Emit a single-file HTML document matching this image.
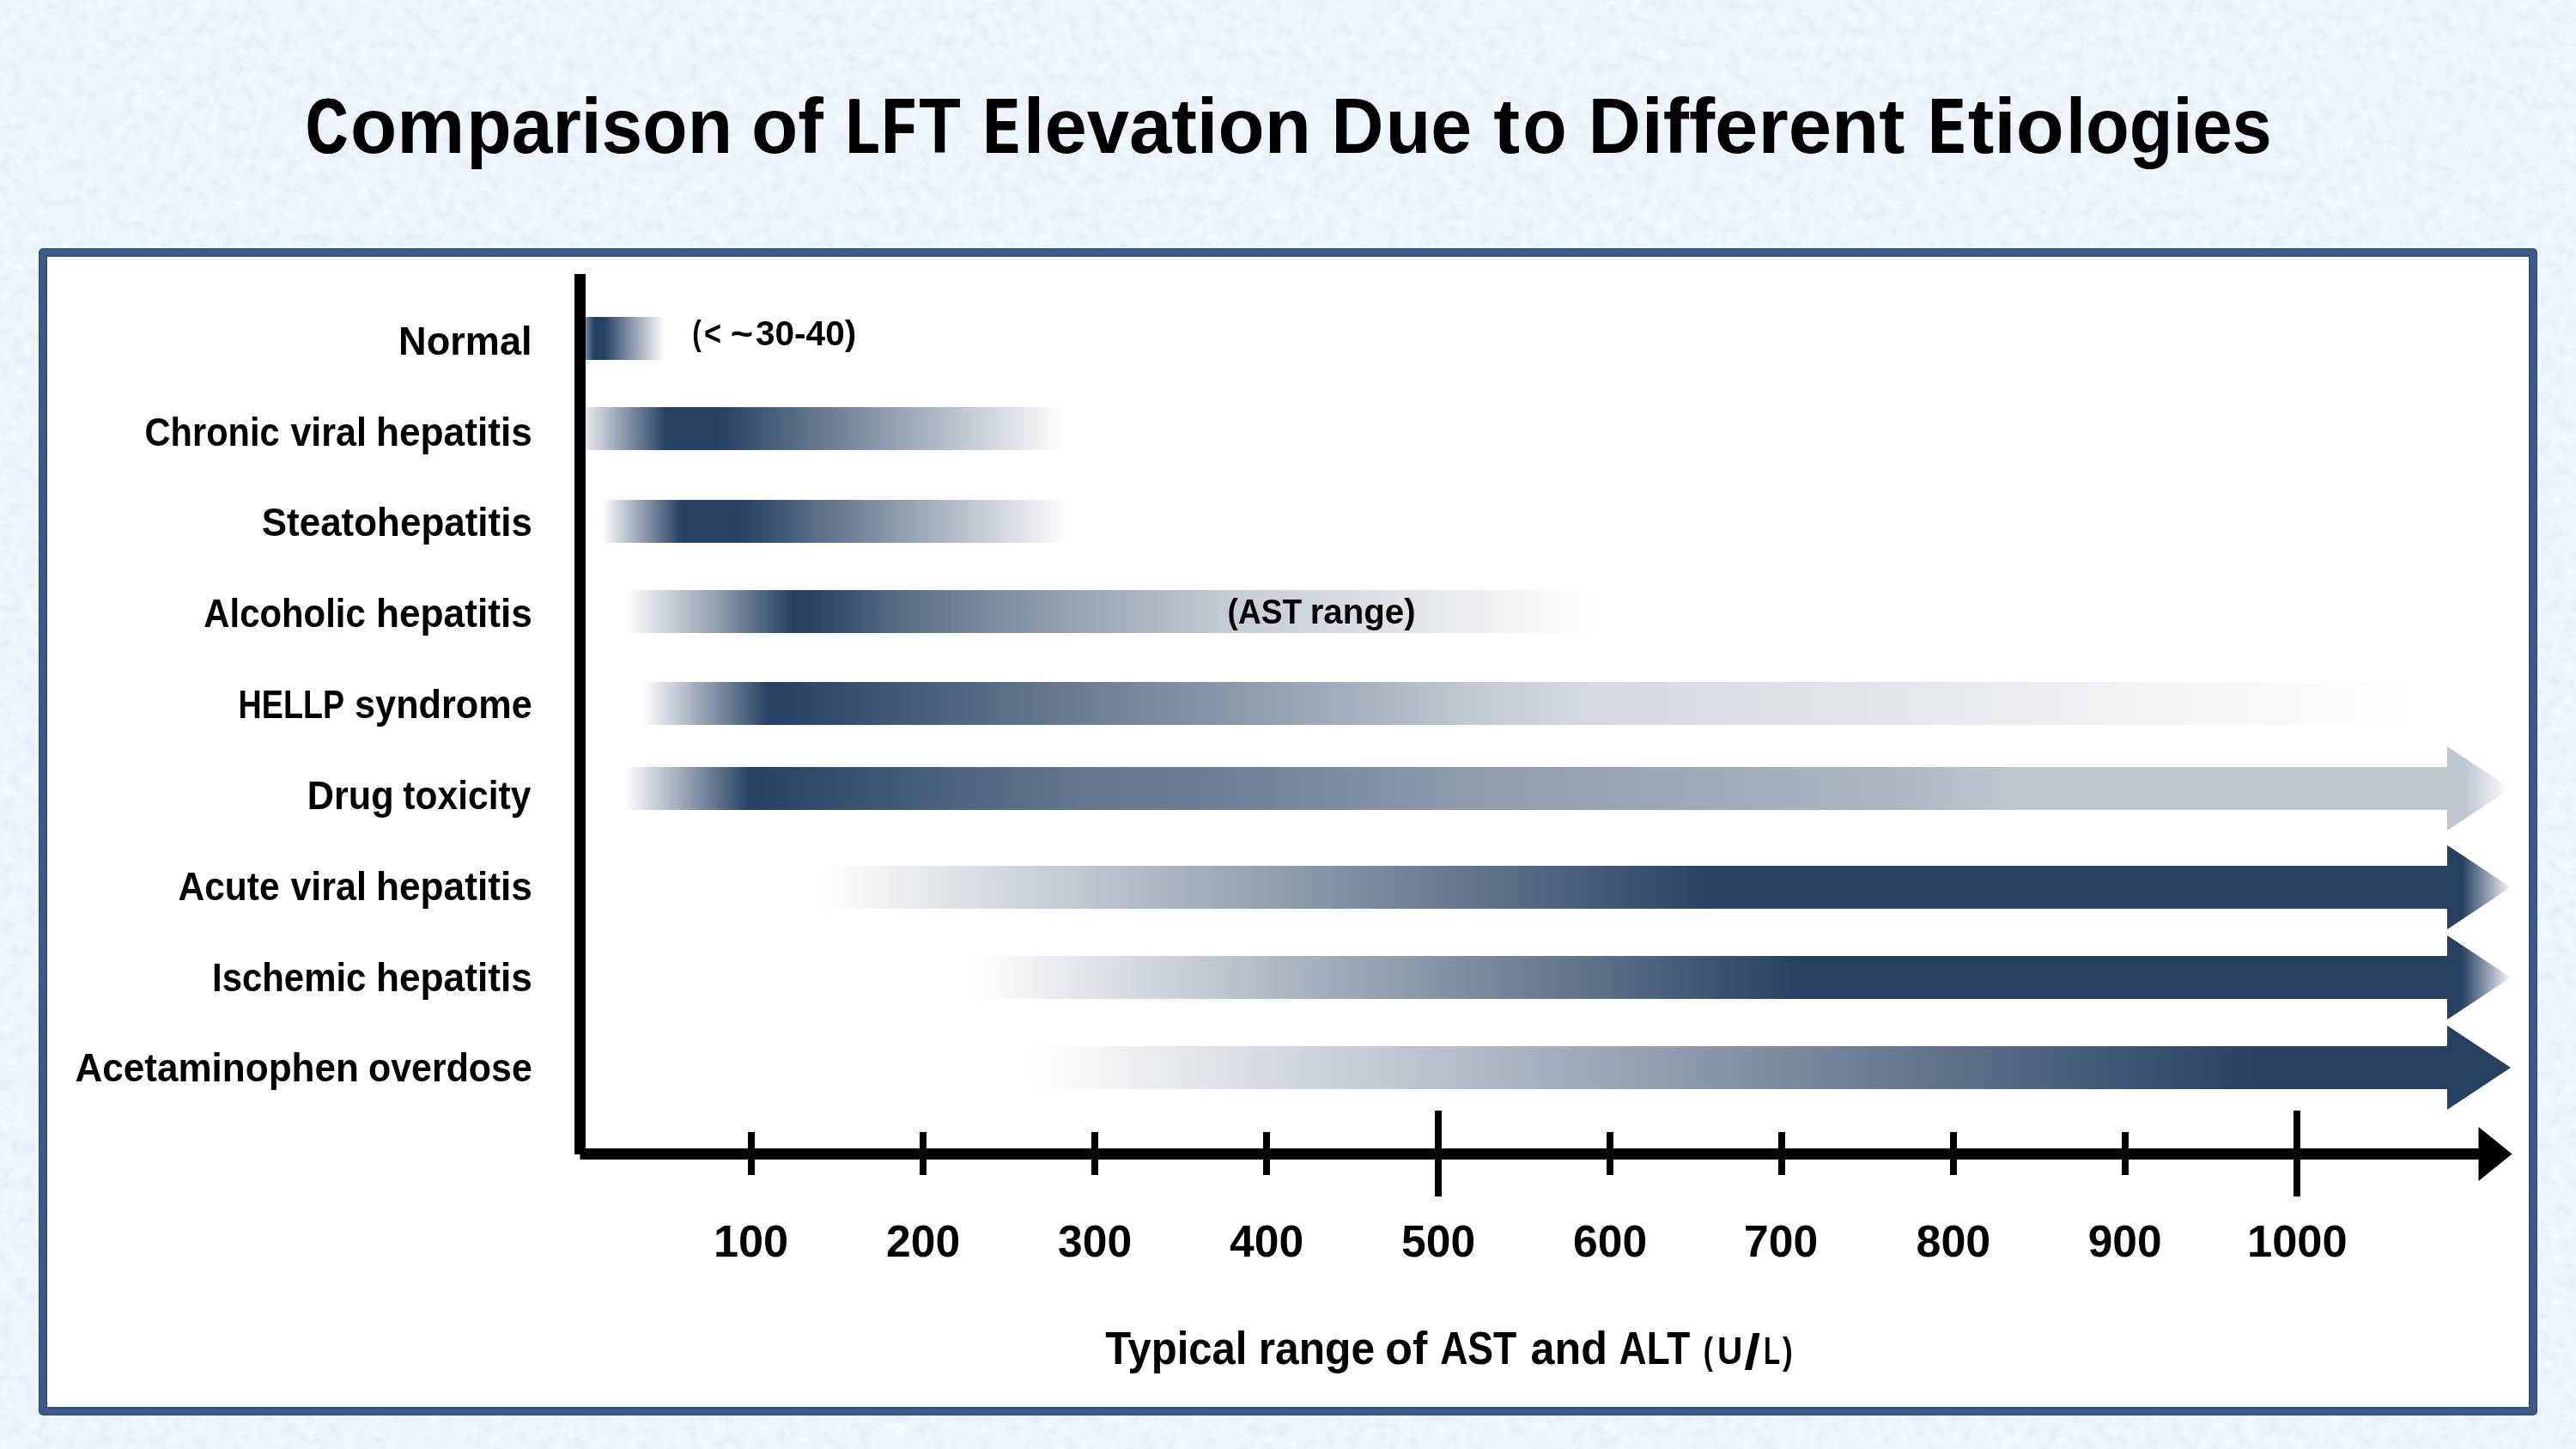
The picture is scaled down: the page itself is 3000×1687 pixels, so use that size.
<!DOCTYPE html>
<html lang="en">
<head>
<meta charset="utf-8">
<title>Comparison of LFT Elevation Due to Different Etiologies</title>
<style>
html,body{margin:0;padding:0;background:#ecf4fc;}
body{width:3000px;height:1687px;overflow:hidden;font-family:"Liberation Sans",sans-serif;}
svg{display:block;}
text{font-family:"Liberation Sans",sans-serif;font-weight:bold;fill:#000;}
</style>
</head>
<body>
<svg width="3000" height="1687" viewBox="0 0 3000 1687">
<defs>
<filter id="paper" x="0" y="0" width="100%" height="100%" filterUnits="objectBoundingBox" color-interpolation-filters="sRGB">
<feTurbulence type="fractalNoise" baseFrequency="0.07" numOctaves="3" seed="7" result="n"/>
<feColorMatrix in="n" type="matrix" values="0.07 0 0 0 0.8905  0.058 0 0 0 0.928  0.035 0 0 0 0.9705  0 0 0 0 1"/>
</filter>
<linearGradient id="g1" gradientUnits="userSpaceOnUse" x1="665" y1="0" x2="774" y2="0"><stop offset="0.0000" stop-color="#254061" stop-opacity="0"/><stop offset="0.2477" stop-color="#254061" stop-opacity="1"/><stop offset="0.3486" stop-color="#254061" stop-opacity="1"/><stop offset="1.0000" stop-color="#254061" stop-opacity="0"/></linearGradient>
<linearGradient id="g2" gradientUnits="userSpaceOnUse" x1="670" y1="0" x2="1241" y2="0"><stop offset="0.0000" stop-color="#254061" stop-opacity="0"/><stop offset="0.1874" stop-color="#254061" stop-opacity="1"/><stop offset="0.2872" stop-color="#254061" stop-opacity="1"/><stop offset="1.0000" stop-color="#254061" stop-opacity="0"/></linearGradient>
<linearGradient id="g3" gradientUnits="userSpaceOnUse" x1="701" y1="0" x2="1246" y2="0"><stop offset="0.0000" stop-color="#254061" stop-opacity="0"/><stop offset="0.1706" stop-color="#254061" stop-opacity="1"/><stop offset="0.2899" stop-color="#254061" stop-opacity="1"/><stop offset="1.0000" stop-color="#254061" stop-opacity="0"/></linearGradient>
<linearGradient id="g4" gradientUnits="userSpaceOnUse" x1="727" y1="0" x2="1860" y2="0"><stop offset="0.0000" stop-color="#254061" stop-opacity="0"/><stop offset="0.0944" stop-color="#254061" stop-opacity="0.5"/><stop offset="0.1730" stop-color="#254061" stop-opacity="1"/><stop offset="0.1889" stop-color="#254061" stop-opacity="1"/><stop offset="0.2913" stop-color="#254061" stop-opacity="0.75"/><stop offset="0.3795" stop-color="#254061" stop-opacity="0.6"/><stop offset="0.4669" stop-color="#254061" stop-opacity="0.47"/><stop offset="0.6214" stop-color="#254061" stop-opacity="0.27"/><stop offset="0.8588" stop-color="#254061" stop-opacity="0.1"/><stop offset="1.0000" stop-color="#254061" stop-opacity="0"/></linearGradient>
<linearGradient id="g5" gradientUnits="userSpaceOnUse" x1="747" y1="0" x2="2812" y2="0"><stop offset="0.0000" stop-color="#254061" stop-opacity="0"/><stop offset="0.0722" stop-color="#254061" stop-opacity="1"/><stop offset="0.1985" stop-color="#254061" stop-opacity="0.77"/><stop offset="0.2586" stop-color="#254061" stop-opacity="0.66"/><stop offset="0.3308" stop-color="#254061" stop-opacity="0.54"/><stop offset="0.4663" stop-color="#254061" stop-opacity="0.29"/><stop offset="0.5269" stop-color="#254061" stop-opacity="0.2"/><stop offset="0.7036" stop-color="#254061" stop-opacity="0.13"/><stop offset="0.8344" stop-color="#254061" stop-opacity="0.07"/><stop offset="1.0000" stop-color="#254061" stop-opacity="0"/></linearGradient>
<linearGradient id="g6" gradientUnits="userSpaceOnUse" x1="727" y1="0" x2="2924" y2="0"><stop offset="0.0000" stop-color="#254061" stop-opacity="0"/><stop offset="0.0669" stop-color="#254061" stop-opacity="1"/><stop offset="0.1534" stop-color="#254061" stop-opacity="0.85"/><stop offset="0.2381" stop-color="#254061" stop-opacity="0.72"/><stop offset="0.3063" stop-color="#254061" stop-opacity="0.68"/><stop offset="0.4474" stop-color="#254061" stop-opacity="0.52"/><stop offset="0.6705" stop-color="#254061" stop-opacity="0.38"/><stop offset="0.7369" stop-color="#254061" stop-opacity="0.3"/><stop offset="0.9754" stop-color="#254061" stop-opacity="0.3"/><stop offset="1.0000" stop-color="#254061" stop-opacity="0"/></linearGradient>
<linearGradient id="g7" gradientUnits="userSpaceOnUse" x1="953" y1="0" x2="2924" y2="0"><stop offset="0.0000" stop-color="#254061" stop-opacity="0"/><stop offset="0.5348" stop-color="#254061" stop-opacity="1"/><stop offset="0.9711" stop-color="#254061" stop-opacity="1"/><stop offset="1.0000" stop-color="#254061" stop-opacity="0.05"/></linearGradient>
<linearGradient id="g8" gradientUnits="userSpaceOnUse" x1="1130" y1="0" x2="2924" y2="0"><stop offset="0.0000" stop-color="#254061" stop-opacity="0"/><stop offset="0.5407" stop-color="#254061" stop-opacity="1"/><stop offset="0.9682" stop-color="#254061" stop-opacity="1"/><stop offset="1.0000" stop-color="#254061" stop-opacity="0.05"/></linearGradient>
<linearGradient id="g9" gradientUnits="userSpaceOnUse" x1="1201" y1="0" x2="2924" y2="0"><stop offset="0.0000" stop-color="#254061" stop-opacity="0"/><stop offset="0.8352" stop-color="#254061" stop-opacity="1"/><stop offset="1.0000" stop-color="#254061" stop-opacity="1"/></linearGradient>
</defs>
<rect x="0" y="0" width="3000" height="1687" fill="#ecf4fc" filter="url(#paper)"/>
<rect x="50" y="294" width="2900" height="1349" fill="#ffffff" stroke="#35526f" stroke-width="10" stroke-linejoin="round"/>
<rect x="50" y="294" width="2900" height="1349" fill="none" stroke="#3a5b8c" stroke-width="6.4" stroke-linejoin="round"/>
<g>
<rect x="675" y="369" width="99" height="50" fill="url(#g1)"/>
<rect x="675" y="474" width="566" height="50" fill="url(#g2)"/>
<rect x="701" y="582" width="545" height="50" fill="url(#g3)"/>
<rect x="727" y="687" width="1133" height="50" fill="url(#g4)"/>
<rect x="747" y="794" width="2065" height="50" fill="url(#g5)"/>
<path d="M727 893H2850V869L2924 918L2850 967V943H727Z" fill="url(#g6)"/>
<path d="M953 1008H2850V984L2924 1033L2850 1082V1058H953Z" fill="url(#g7)"/>
<path d="M1130 1113H2850V1089L2924 1138L2850 1187V1163H1130Z" fill="url(#g8)"/>
<path d="M1201 1218H2850V1194L2924 1243L2850 1292V1268H1201Z" fill="url(#g9)"/>
</g>
<g fill="#000">
<rect x="669" y="319" width="13" height="1025"/>
<rect x="675.5" y="1337" width="2212" height="13"/>
<path d="M2886.5 1312L2925.5 1343.5L2886.5 1375Z"/>
<rect x="871" y="1318" width="8" height="50"/><rect x="1071" y="1318" width="8" height="50"/><rect x="1271" y="1318" width="8" height="50"/><rect x="1471" y="1318" width="8" height="50"/><rect x="1671" y="1293" width="8" height="100"/><rect x="1871" y="1318" width="8" height="50"/><rect x="2071" y="1318" width="8" height="50"/><rect x="2271" y="1318" width="8" height="50"/><rect x="2471" y="1318" width="8" height="50"/><rect x="2671" y="1293" width="8" height="100"/>
</g>
<g opacity="0.999">

<text id="t1" x="356.88" y="177.5" font-size="91" textLength="47.62" lengthAdjust="spacingAndGlyphs">C</text><use href="#t1" x="-1.15"/><use href="#t1" x="1.15"/><text x="407.97" y="177.5" font-size="91" textLength="133.33" lengthAdjust="spacingAndGlyphs">om</text><text x="543.35" y="177.5" font-size="91" textLength="309.72" lengthAdjust="spacingAndGlyphs">parison</text>
<text x="874.97" y="177.5" font-size="91" textLength="83.95" lengthAdjust="spacingAndGlyphs">of</text>
<text id="t2" x="986.86" y="177.5" font-size="91" textLength="36.07" lengthAdjust="spacingAndGlyphs">L</text><use href="#t2" x="-1.65"/><use href="#t2" x="1.65"/><text id="t3" x="1028.55" y="177.5" font-size="91" textLength="37.02" lengthAdjust="spacingAndGlyphs">F</text><use href="#t3" x="-1.55"/><use href="#t3" x="1.55"/><text x="1070.33" y="177.5" font-size="91" textLength="48.59" lengthAdjust="spacingAndGlyphs">T</text>
<text id="t4" x="1147.06" y="177.5" font-size="91" textLength="38.87" lengthAdjust="spacingAndGlyphs">E</text><use href="#t4" x="-1.7"/><use href="#t4" x="1.7"/><text x="1191.75" y="177.5" font-size="91" textLength="335.09" lengthAdjust="spacingAndGlyphs">levation</text>
<text x="1550.44" y="177.5" font-size="91" textLength="60.91" lengthAdjust="spacingAndGlyphs">D</text><text x="1613.67" y="177.5" font-size="91" textLength="100.39" lengthAdjust="spacingAndGlyphs">ue</text>
<text x="1739.28" y="177.5" font-size="91" textLength="30.83" lengthAdjust="spacingAndGlyphs">t</text><text x="1773.22" y="177.5" font-size="91" textLength="51.47" lengthAdjust="spacingAndGlyphs">o</text>
<text x="1849.63" y="177.5" font-size="91" textLength="61.02" lengthAdjust="spacingAndGlyphs">D</text><text x="1911.63" y="177.5" font-size="91" textLength="306.87" lengthAdjust="spacingAndGlyphs">ifferent</text>
<text id="t5" x="2247.70" y="177.5" font-size="91" textLength="39.45" lengthAdjust="spacingAndGlyphs">E</text><use href="#t5" x="-1.7"/><use href="#t5" x="1.7"/><text x="2291.79" y="177.5" font-size="91" textLength="112.01" lengthAdjust="spacingAndGlyphs">tio</text><text x="2406.03" y="177.5" font-size="91" textLength="239.76" lengthAdjust="spacingAndGlyphs">logies</text>
<text x="464.02" y="413" font-size="45.5" textLength="155.60" lengthAdjust="spacingAndGlyphs">Normal</text>
<text x="168.59" y="518.5" font-size="45.5" textLength="157.01" lengthAdjust="spacingAndGlyphs">Chronic</text>
<text x="338.40" y="518.5" font-size="45.5" textLength="88.60" lengthAdjust="spacingAndGlyphs">viral</text>
<text x="437.98" y="518.5" font-size="45.5" textLength="181.89" lengthAdjust="spacingAndGlyphs">hepatitis</text>
<text x="304.73" y="624" font-size="45.5" textLength="315.13" lengthAdjust="spacingAndGlyphs">Steatohepatitis</text>
<text x="237.28" y="730" font-size="45.5" textLength="188.42" lengthAdjust="spacingAndGlyphs">Alcoholic</text>
<text x="437.98" y="730" font-size="45.5" textLength="181.89" lengthAdjust="spacingAndGlyphs">hepatitis</text>
<text x="277.62" y="836" font-size="45.5" textLength="123.50" lengthAdjust="spacingAndGlyphs">HELLP</text>
<text x="413.05" y="836" font-size="45.5" textLength="206.79" lengthAdjust="spacingAndGlyphs">syndrome</text>
<text x="357.65" y="941.5" font-size="45.5" textLength="101.01" lengthAdjust="spacingAndGlyphs">Drug</text>
<text x="469.30" y="941.5" font-size="45.5" textLength="149.05" lengthAdjust="spacingAndGlyphs">toxicity</text>
<text x="207.47" y="1048" font-size="45.5" textLength="118.15" lengthAdjust="spacingAndGlyphs">Acute</text>
<text x="338.40" y="1048" font-size="45.5" textLength="88.60" lengthAdjust="spacingAndGlyphs">viral</text>
<text x="437.98" y="1048" font-size="45.5" textLength="181.89" lengthAdjust="spacingAndGlyphs">hepatitis</text>
<text x="247.04" y="1153.5" font-size="45.5" textLength="179.36" lengthAdjust="spacingAndGlyphs">Ischemic</text>
<text x="437.98" y="1153.5" font-size="45.5" textLength="181.89" lengthAdjust="spacingAndGlyphs">hepatitis</text>
<text x="87.43" y="1259" font-size="45.5" textLength="330.47" lengthAdjust="spacingAndGlyphs">Acetaminophen</text>
<text x="428.96" y="1259" font-size="45.5" textLength="190.87" lengthAdjust="spacingAndGlyphs">overdose</text>
<text x="831.01" y="1463" font-size="52.5" textLength="87.18" lengthAdjust="spacingAndGlyphs">100</text>
<text x="1032.02" y="1463" font-size="52.5" textLength="86.16" lengthAdjust="spacingAndGlyphs">200</text>
<text x="1232.02" y="1463" font-size="52.5" textLength="86.16" lengthAdjust="spacingAndGlyphs">300</text>
<text x="1432.00" y="1463" font-size="52.5" textLength="86.18" lengthAdjust="spacingAndGlyphs">400</text>
<text x="1632.02" y="1463" font-size="52.5" textLength="86.16" lengthAdjust="spacingAndGlyphs">500</text>
<text x="1832.02" y="1463" font-size="52.5" textLength="86.16" lengthAdjust="spacingAndGlyphs">600</text>
<text x="2031.03" y="1463" font-size="52.5" textLength="86.15" lengthAdjust="spacingAndGlyphs">700</text>
<text x="2231.51" y="1463" font-size="52.5" textLength="86.67" lengthAdjust="spacingAndGlyphs">800</text>
<text x="2431.72" y="1463" font-size="52.5" textLength="85.85" lengthAdjust="spacingAndGlyphs">900</text>
<text x="2617.00" y="1463" font-size="52.5" textLength="116.69" lengthAdjust="spacingAndGlyphs">1000</text>
<text x="1287.20" y="1588" font-size="53" textLength="165.24" lengthAdjust="spacingAndGlyphs">Typical</text>
<text x="1465.69" y="1588" font-size="53" textLength="135.40" lengthAdjust="spacingAndGlyphs">range</text>
<text x="1613.24" y="1588" font-size="53" textLength="49.02" lengthAdjust="spacingAndGlyphs">of</text>
<text x="1677.16" y="1588" font-size="53" textLength="89.16" lengthAdjust="spacingAndGlyphs">AST</text>
<text x="1782.55" y="1588" font-size="53" textLength="89.35" lengthAdjust="spacingAndGlyphs">and</text>
<text x="1885.77" y="1588" font-size="53" textLength="82.55" lengthAdjust="spacingAndGlyphs">ALT</text>
<text x="1983.71" y="1588" font-size="45" textLength="11.18" lengthAdjust="spacingAndGlyphs">(</text><text x="2000.10" y="1588" font-size="45" textLength="29.25" lengthAdjust="spacingAndGlyphs">U</text><text x="2031.30" y="1593.5" font-size="58" textLength="18.86" lengthAdjust="spacingAndGlyphs" font-weight="normal">/</text><text x="2053.91" y="1588" font-size="45" textLength="19.13" lengthAdjust="spacingAndGlyphs">L</text><text x="2075.90" y="1588" font-size="45" textLength="11.76" lengthAdjust="spacingAndGlyphs">)</text>
<text x="806.15" y="401.7" font-size="41" textLength="10.58" lengthAdjust="spacingAndGlyphs">(</text><text x="819.96" y="401.7" font-size="41" textLength="20.03" lengthAdjust="spacingAndGlyphs">&lt;</text>
<text x="850.70" y="401.7" font-size="41" textLength="26.34" lengthAdjust="spacingAndGlyphs">~</text><text x="880.00" y="401.7" font-size="41" textLength="117.24" lengthAdjust="spacingAndGlyphs">30-40)</text>
<text x="1429.59" y="726" font-size="41" textLength="86.45" lengthAdjust="spacingAndGlyphs">(AST</text>
<text x="1525.64" y="726" font-size="41" textLength="122.99" lengthAdjust="spacingAndGlyphs">range)</text>
</g>
</svg>
</body>
</html>
